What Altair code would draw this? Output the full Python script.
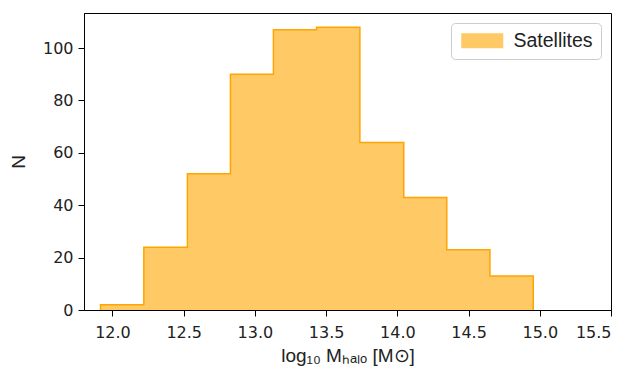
import altair as alt
import pandas as pd

# ---- data ----
bin_edges = [11.916, 12.220, 12.526, 12.828, 13.130, 13.433, 13.737, 14.045, 14.347, 14.650, 14.954]
counts = [2, 24, 52, 90, 107, 108, 64, 43, 23, 13]
series_label = "Satellites"
x_ticks = [12.0, 12.5, 13.0, 13.5, 14.0, 14.5, 15.0, 15.5]
y_ticks = [0, 20, 40, 60, 80, 100]
x_domain = [11.8, 15.5]
y_domain = [0, 113.4]

fill_color = "#FFC966"
edge_color = "#FFA500"

# step-after area table (last bin repeated to close the final step)
area_df = pd.DataFrame({
    "x": bin_edges,
    "n": counts + [counts[-1]],
    "series": series_label,
})

# outline vertices built from edges and counts
ox, oy = [bin_edges[0]], [0]
for i, c in enumerate(counts):
    ox += [bin_edges[i], bin_edges[i + 1]]
    oy += [c, c]
ox.append(bin_edges[-1])
oy.append(0)
line_df = pd.DataFrame({"x": ox, "n": oy, "k": list(range(len(ox)))})

xscale = alt.Scale(domain=x_domain, nice=False, zero=False)
yscale = alt.Scale(domain=y_domain, nice=False)

x_title = "log\u2081\u2080 M\u2095\u2090\u2097\u2092 [M\u2299]"

area = alt.Chart(area_df).mark_area(interpolate="step-after", opacity=1).encode(
    x=alt.X("x:Q", scale=xscale,
            axis=alt.Axis(values=x_ticks, format=".1f", title=x_title)),
    y=alt.Y("n:Q", scale=yscale,
            axis=alt.Axis(values=y_ticks, format="d", title="N")),
    color=alt.Color(
        "series:N",
        scale=alt.Scale(domain=[series_label], range=[fill_color]),
        legend=alt.Legend(
            title=None,
            orient="top-right",
            offset=10,
            padding=8,
            strokeColor="#cccccc",
            cornerRadius=4,
            fillColor="white",
            symbolType="M-1,-1L4.6,-1L4.6,1L-1,1Z",
            symbolSize=225,
            symbolStrokeWidth=0,
            symbolOpacity=1,
            labelFont="Liberation Sans",
            labelFontSize=19.5,
            labelColor="#222222",
            labelOffset=35,
        ),
    ),
)

outline = alt.Chart(line_df).mark_line(color=edge_color, strokeWidth=1.5).encode(
    x=alt.X("x:Q", scale=xscale),
    y=alt.Y("n:Q", scale=yscale),
    order="k:Q",
)

chart = (
    alt.layer(area, outline)
    .properties(
        width=527,
        height=297,
        autosize=alt.AutoSizeParams(type="none"),
        padding={"left": 84, "top": 13, "right": 19, "bottom": 57},
    )
    .configure_view(stroke="black", strokeWidth=1)
    .configure_axis(
        grid=False,
        domainColor="black",
        domainWidth=1,
        tickColor="black",
        tickSize=6,
        tickWidth=1,
        labelFont="DejaVu Sans",
        labelFontSize=16,
        labelColor="#222222",
        labelPadding=5,
        titleFont="Liberation Sans",
        titleFontSize=19,
        titleFontWeight="normal",
        titleColor="#222222",
    )
    .configure_axisX(titlePadding=6, labelPadding=8)
    .configure_axisY(titlePadding=14)
)

chart.save("out.html", embed_options={"renderer": "svg", "actions": False})
